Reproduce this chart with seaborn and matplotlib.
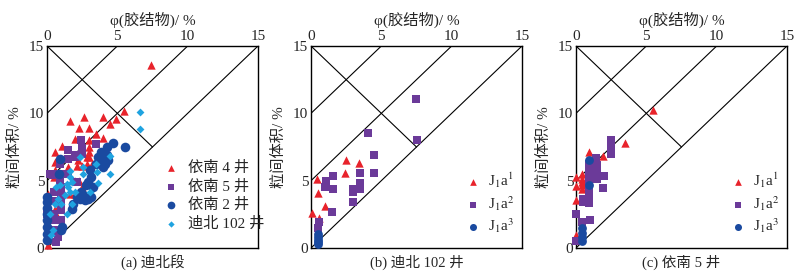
import matplotlib
matplotlib.use("Agg")
import matplotlib.pyplot as plt
import seaborn as sns
import pandas as pd

sns.set_theme(style="white")
plt.rcParams['font.family'] = ['Liberation Serif', 'Noto Sans CJK SC']
plt.rcParams['mathtext.fontset'] = 'stix'
plt.rcParams['font.size'] = 11

RED = "#e8232b"
PURPLE = "#6b3a99"
BLUE = "#1a4aa0"
CYAN = "#1fa3e0"

# ---- (a) 迪北段 ----
yn4_x = [7.4, 5.5, 4.9, 4.5, 4.0, 2.6, 1.6, 2.3, 3.0, 3.5, 4.0, 2.0, 1.05, 0.6, 3.0, 3.0, 3.0, 3.0,
         0.55, 0.55, 1.5, 2.1, 2.5, 2.85, 3.2, 0.5, 2.0, 2.3, 2.5, 1.6, 2.0, 0.1, 0.55, 0.6, 0.1, 2.2, 2.85]
yn4_y = [13.6, 10.2, 9.6, 9.2, 9.7, 9.7, 9.4, 8.9, 8.9, 8.5, 8.2, 8.1, 7.6, 7.1, 8.0, 7.5, 7.1, 6.75,
         6.4, 5.8, 6.0, 6.1, 6.1, 6.25, 6.25, 5.3, 5.0, 5.0, 4.5, 4.0, 4.0, 4.0, 2.9, 2.7, 0.2, 6.5, 6.75]
yn5_x = [2.45, 2.5, 2.5, 3.5, 1.5, 2.0, 1.5, 0.9, 0.2, 0.45, 0.65, 0.95, 1.5, 0.9, 1.0, 1.0, 1.0, 1.0,
         0.5, 0.5, 1.0, 0.5, 0.0, 0.5, 1.0, 0.55, 0.8, 0.1, 0.65, 2.1, 2.0]
yn5_y = [8.0, 7.4, 6.95, 7.7, 7.25, 6.75, 6.6, 6.25, 5.5, 5.4, 5.5, 5.5, 5.5, 5.0, 4.5, 4.15, 3.8, 3.4,
         4.15, 3.5, 2.8, 2.55, 2.55, 2.05, 2.05, 1.3, 0.8, 0.57, 0.45, 4.9, 6.9]
yn2_x = [5.55, 4.7, 4.25, 3.85, 3.65, 4.0, 4.25, 4.35, 4.1, 3.75, 3.5, 4.0, 3.05, 3.15, 2.9, 2.75, 3.3,
         2.45, 2.1, 2.35, 2.7, 2.9, 3.15, 2.55, 1.85, 1.75, 0.95, 0.85, 0.0, 0.0, 0.0, 0.0, 0.0, 0.0,
         0.0, 0.0, 1.1, 1.0]
yn2_y = [7.5, 7.8, 7.5, 7.1, 6.75, 6.75, 6.9, 6.5, 6.25, 6.5, 6.25, 6.0, 5.8, 5.3, 4.9, 4.65, 4.5,
         4.15, 3.8, 3.65, 3.55, 3.65, 3.8, 3.9, 3.3, 2.9, 6.6, 5.5, 3.8, 3.4, 3.0, 2.55, 2.05, 1.55,
         1.05, 0.57, 1.55, 1.3]
db102_x = [6.6, 6.6, 4.5, 4.5, 3.5, 3.55, 3.6, 3.05, 2.55, 2.55, 1.6, 1.75, 1.5, 1.4, 1.6, 1.25, 0.9,
           0.65, 1.6, 2.35, 1.75, 1.4, 0.8, 0.2, 0.55, 0.45, 0.3, 1.0, 2.0]
db102_y = [10.1, 8.8, 6.8, 5.5, 6.25, 5.65, 4.8, 4.15, 6.0, 5.5, 5.3, 4.9, 4.5, 4.75, 4.15, 3.9, 4.65,
           4.5, 5.75, 6.75, 3.3, 2.55, 3.65, 2.55, 3.3, 1.3, 0.95, 3.3, 4.15]

# ---- (b) 迪北 102 井 ----
b_a1_x = [0.4, 0.5, 0.05, 1.0, 0.6, 2.5, 2.45, 3.4]
b_a1_y = [5.1, 4.1, 2.6, 3.1, 2.2, 6.55, 5.6, 6.3]
b_a2_x = [7.5, 7.55, 4.05, 4.5, 4.5, 3.5, 3.5, 3.5, 3.0, 3.0, 3.0, 1.55, 1.55, 1.5, 1.05, 1.0, 0.6, 0.5]
b_a2_y = [11.1, 8.05, 8.55, 6.9, 5.6, 5.55, 4.8, 4.35, 4.35, 4.15, 3.4, 5.35, 4.35, 2.65, 5.0, 4.55, 1.9, 1.5]
b_a3_x = [0.5, 0.5, 0.5, 0.5, 0.5]
b_a3_y = [1.05, 0.82, 0.62, 0.45, 0.32]

# ---- (c) 依南 5 井 ----
c_a1_x = [5.45, 3.45, 0.95, 1.95, 0.0, 0.4, 0.4, 0.4, 0.4, 0.4, 0.0, 0.0, 0.0]
c_a1_y = [10.25, 7.8, 7.15, 6.8, 5.25, 5.5, 5.15, 4.9, 4.65, 4.35, 4.6, 3.6, 0.95]
c_a2_x = [2.5, 2.5, 2.5, 1.45, 1.5, 0.9, 0.95, 0.95, 0.95, 1.5, 1.5, 2.0, 1.95, 0.95, 0.95, 0.95,
          0.5, 0.5, 0.0, 0.4, 1.0, 0.0]
c_a2_y = [8.0, 7.6, 6.95, 6.7, 6.2, 6.25, 5.75, 5.4, 5.0, 5.55, 5.15, 5.35, 4.45, 4.3, 3.9, 3.35,
          3.65, 3.4, 2.55, 1.95, 2.05, 0.5]
c_a3_x = [0.95, 0.95, 0.4, 0.4, 0.4, 0.4]
c_a3_y = [6.55, 4.7, 1.5, 1.15, 0.8, 0.5]


def frame(ax, title):
    # guide lines of the compaction / cementation diagram
    for off in [10, 5, 0]:
        ax.plot([0, 15 - off], [off, 15], color="black", lw=0.8, zorder=1)
    ax.plot([0, 7.5], [15, 7.5], color="black", lw=0.8, zorder=1)
    ax.set_xlim(0, 15)
    ax.set_ylim(0, 15)
    ax.set_xticks([0, 5, 10, 15])
    ax.set_yticks([0, 5, 10, 15])
    ax.xaxis.tick_top()
    ax.xaxis.set_label_position("top")
    ax.tick_params(length=0, pad=2, labelsize=11)
    ax.set_xlabel("φ(胶结物)/ %", fontsize=11, labelpad=4)
    ax.set_ylabel("粒间体积/ %", fontsize=11, labelpad=5)
    for s in ax.spines.values():
        s.set_color("black")
        s.set_linewidth(1.0)
    ax.text(0.5, -0.07, title, transform=ax.transAxes, ha="center", va="center", fontsize=10.5)


def add(ax, xs, ys, marker, color, size, label):
    df = pd.DataFrame({"x": xs, "y": ys})
    sns.scatterplot(data=df, x="x", y="y", ax=ax, marker=marker, color=color, s=size,
                    linewidth=0, label=label, zorder=3, clip_on=False)


fig = plt.figure(figsize=(8.03, 2.74), dpi=100)
lefts = [47 / 803, 311 / 803, 576 / 803]
axes = [fig.add_axes([l, 26 / 274, 211 / 803, 202 / 274]) for l in lefts]

ax = axes[0]
add(ax, yn4_x, yn4_y, "^", RED, 36, "依南 4 井")
add(ax, yn5_x, yn5_y, "s", PURPLE, 36, "依南 5 井")
add(ax, yn2_x, yn2_y, "o", BLUE, 48, "依南 2 井")
add(ax, db102_x, db102_y, "D", CYAN, 16, "迪北 102 井")
frame(ax, "(a) 迪北段")
ax.legend(loc="upper left", bbox_to_anchor=(0.48, 0.47), frameon=False, handletextpad=0.1,
          labelspacing=0.3, borderpad=0, markerscale=0.8, fontsize=11)

lab = [r"J$_1$a$^1$", r"J$_1$a$^2$", r"J$_1$a$^3$"]
for ax, (a1x, a1y, a2x, a2y, a3x, a3y), t in zip(
        axes[1:],
        [(b_a1_x, b_a1_y, b_a2_x, b_a2_y, b_a3_x, b_a3_y),
         (c_a1_x, c_a1_y, c_a2_x, c_a2_y, c_a3_x, c_a3_y)],
        ["(b) 迪北 102 井", "(c) 依南 5 井"]):
    add(ax, a1x, a1y, "^", RED, 36, lab[0])
    add(ax, a2x, a2y, "s", PURPLE, 36, lab[1])
    add(ax, a3x, a3y, "o", BLUE, 40, lab[2])
    frame(ax, t)
    ax.legend(loc="upper left", bbox_to_anchor=(0.66, 0.42), frameon=False, handletextpad=0.0,
              labelspacing=0.25, borderpad=0, markerscale=0.8, fontsize=11)

fig.savefig("out.png", dpi=100)
